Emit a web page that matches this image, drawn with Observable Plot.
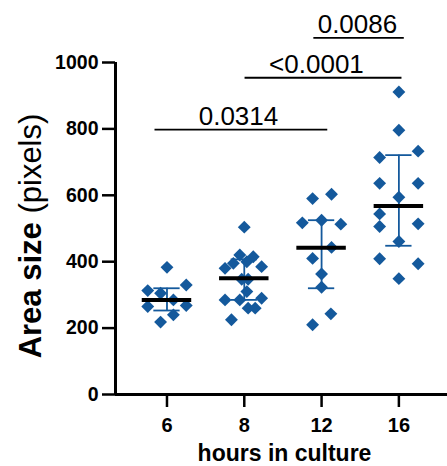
<!DOCTYPE html>
<html>
<head>
<meta charset="utf-8">
<script src="https://cdn.jsdelivr.net/npm/d3@7"></script>
<script src="https://cdn.jsdelivr.net/npm/@observablehq/plot@0.6"></script>
<style>
  html, body { margin: 0; padding: 0; background: #fff; }
  svg { display: block; }
</style>
</head>
<body>
<div id="chart"></div>
<script>
// Categories (hours in culture)
const hours = ["6", "8", "12", "16"];

// Individual measurements per group (area size, pixels), with horizontal scatter offsets
const values6  = [383, 313, 305, 330, 285, 265, 268, 240, 218];
const jitter6  = [0, -3, -1, 3, 1, -3, 3, 1, -1];
const values8  = [504, 420, 415, 395, 400, 380, 385, 347, 347, 310, 285, 285, 290, 260, 260, 225];
const jitter8  = [0, -0.7, 1.4, -1.7, 0.4, -3, 2.7, -0.4, 0.6, 0.4, -3, -0.7, 2.7, 0.6, 1.7, -2];
const values12 = [590, 603, 517, 525, 513, 443, 410, 363, 323, 243, 210];
const jitter12 = [-1.4, 1.55, -3, 0, 3, 1.55, -1.4, 0, 0, 1.45, -1.4];
const values16 = [911, 796, 714, 733, 636, 636, 594, 544, 506, 514, 461, 409, 394, 349];
const jitter16 = [0, 0, -3, 3, -3, 3, 0, -3, -3, 3, 0, -3, 3, 0];

// Summary lines (median, lower and upper bars)
const medians = [285, 350, 442, 568];
const lows    = [253, 285, 320, 448];
const highs   = [320, 407, 525, 721];

// Significance brackets
const pLabels = ["0.0314", "<0.0001", "0.0086"];
const pFrom   = [-0.155, 1.01, 1.90];
const pTo     = [2.08, 3.04, 3.07];
const pLevel  = [798, 954, 1074];
const pTextX  = [0.925, 1.934, 2.464];

const yTicks = [0, 200, 400, 600, 800, 1000];
const yTickLabels = ["0", "200", "400", "600", "800", "1000"];

const blue = "#14599c";
const font = "'Liberation Sans', Arial, Helvetica, sans-serif";
const jitterStep = 0.083;

const groups = [values6, values8, values12, values16];
const jitters = [jitter6, jitter8, jitter12, jitter16];
const points = groups.flatMap((vals, i) =>
  vals.map((v, k) => ({x: i + jitters[i][k] * jitterStep, y: v})));
const summary = hours.map((h, i) => ({i, med: medians[i], lo: lows[i], hi: highs[i]}));
const brackets = pLabels.map((t, i) => ({t, x1: pFrom[i], x2: pTo[i], y: pLevel[i], tx: pTextX[i]}));
const yLab = yTicks.map((v, i) => ({v, t: yTickLabels[i]}));
const xLab = hours.map((h, i) => ({i, t: h}));

const medHalf = 0.32, capHalf = 0.17;

const plot = Plot.plot({
  width: 447,
  height: 466,
  marginLeft: 115,
  marginRight: 0,
  marginTop: 62,
  marginBottom: 72,
  style: {fontFamily: font, background: "#fff", overflow: "visible"},
  x: {type: "linear", domain: [-0.666, 3.629], axis: null},
  y: {domain: [0, 1000], axis: null},
  marks: [
    // axes lines and ticks
    Plot.ruleX([-0.666], {y1: 0, y2: 1000, stroke: "#000", strokeWidth: 3}),
    Plot.ruleY([0], {x1: -0.666, x2: 3.629, stroke: "#000", strokeWidth: 3}),
    Plot.axisY({ticks: yTicks, tickFormat: () => "", tickSize: 13, tickPadding: 4,
      strokeWidth: 2.5, label: null}),
    Plot.axisX({ticks: [0, 1, 2, 3], tickFormat: () => "", tickSize: 13,
      tickPadding: 5, strokeWidth: 2.5, label: null}),
    // tick labels
    Plot.text(yLab, {y: "v", text: "t", frameAnchor: "left", textAnchor: "end", lineAnchor: "middle", dx: -17,
      fontSize: 19.5, fontWeight: "bold", fill: "#000", style: {letterSpacing: "2px"}}),
    Plot.text(xLab, {x: "i", text: "t", frameAnchor: "bottom", lineAnchor: "top", dy: 23,
      fontSize: 20, fontWeight: "bold", fill: "#000"}),
    Plot.text(["hours in culture"], {frameAnchor: "bottom", lineAnchor: "bottom", dx: 3, dy: 66,
      fontSize: 23, fontWeight: "bold", fill: "#000", style: {letterSpacing: "1.2px"}}),
    // error bars
    Plot.ruleX(summary, {x: "i", y1: "lo", y2: "hi", stroke: blue, strokeWidth: 1.8}),
    Plot.ruleY(summary, {y: "hi", x1: (d) => d.i - capHalf, x2: (d) => d.i + capHalf, stroke: blue, strokeWidth: 1.8}),
    Plot.ruleY(summary, {y: "lo", x1: (d) => d.i - capHalf, x2: (d) => d.i + capHalf, stroke: blue, strokeWidth: 1.8}),
    // points
    Plot.dot(points, {x: "x", y: "y", symbol: "diamond2", r: 5.8, fill: blue, stroke: "none"}),
    // medians
    Plot.ruleY(summary, {y: "med", x1: (d) => d.i - medHalf, x2: (d) => d.i + medHalf, stroke: "#000", strokeWidth: 4}),
    // significance brackets
    Plot.ruleY(brackets, {y: "y", x1: "x1", x2: "x2", stroke: "#000", strokeWidth: 1.8}),
    Plot.text(brackets, {x: "tx", y: "y", text: "t", lineAnchor: "bottom", dy: -5,
      fontSize: 26, fill: "#000", style: {letterSpacing: "1.4px"}})
  ]
});

document.getElementById("chart").appendChild(plot);

// y-axis title with mixed weights
const svg = d3.select(plot);
const title = svg.append("text")
  .attr("transform", "translate(41,236) rotate(-90)")
  .attr("text-anchor", "middle")
  .attr("font-family", font)
  .attr("font-size", 31)
  .attr("fill", "#000");
title.append("tspan").attr("font-weight", "bold").text("Area size");
title.append("tspan").attr("font-weight", "normal").text(" (pixels)");
</script>
</body>
</html>
